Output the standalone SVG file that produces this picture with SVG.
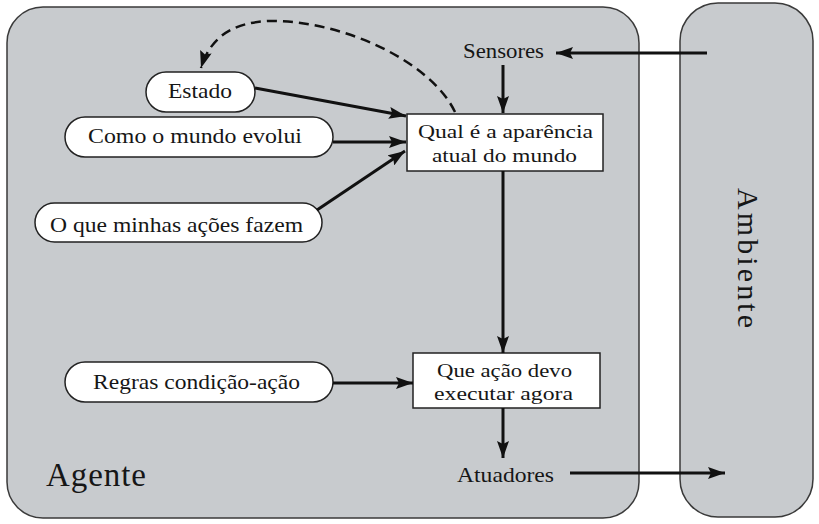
<svg xmlns="http://www.w3.org/2000/svg" width="819" height="524" viewBox="0 0 819 524" font-family="'Liberation Serif', 'DejaVu Serif', serif">
<style>
text{font-family:'Liberation Serif','DejaVu Serif',serif;fill:#161616}
.t{font-size:21px}
.b{font-size:19px}
.panel{fill:#c8cbce;stroke:#3a3a3a;stroke-width:1.5}
.node{fill:#fff;stroke:#222;stroke-width:1.5}
.c{stroke:#111;stroke-width:3;fill:none}
.d{stroke:#111;stroke-width:2.5;fill:none;stroke-dasharray:10 6}
</style>
<defs>
<marker id="ah" markerUnits="userSpaceOnUse" markerWidth="18" markerHeight="12" refX="17" refY="6" orient="auto">
<path d="M0,0 L17,6 L0,12 L3,6 z" fill="#111"/>
</marker>
</defs>
<rect width="819" height="524" fill="#fff"/>
<g id="agente">
<rect class="panel" x="7" y="7" width="632" height="511" rx="36" ry="36"/>
<text x="46" y="486" font-size="33" textLength="100" lengthAdjust="spacing">Agente</text>
</g>
<g id="ambiente">
<rect class="panel" x="680" y="3" width="133" height="514" rx="38" ry="38"/>
<text transform="translate(738,188) rotate(90)" font-size="30" textLength="140" lengthAdjust="spacing">Ambiente</text>
</g>
<g id="sensores"><text class="t" x="463" y="58" font-size="19" textLength="81" lengthAdjust="spacingAndGlyphs">Sensores</text></g>
<g id="atuadores"><text class="t" x="457" y="482" textLength="97" lengthAdjust="spacingAndGlyphs">Atuadores</text></g>
<g id="estado">
<rect class="node" x="146" y="72" width="109" height="40" rx="20"/>
<text class="t" x="168" y="98" textLength="64" lengthAdjust="spacingAndGlyphs">Estado</text>
</g>
<g id="como">
<rect class="node" x="65" y="117" width="268" height="40" rx="20"/>
<text class="t" x="88" y="143" textLength="214" lengthAdjust="spacingAndGlyphs">Como o mundo evolui</text>
</g>
<g id="oque">
<rect class="node" x="35" y="203" width="287" height="39" rx="19.5"/>
<text class="t" x="50" y="232" textLength="253" lengthAdjust="spacingAndGlyphs">O que minhas ações fazem</text>
</g>
<g id="regras">
<rect class="node" x="65" y="362" width="268" height="40" rx="20"/>
<text class="t" x="93" y="389" textLength="207" lengthAdjust="spacingAndGlyphs">Regras condição-ação</text>
</g>
<g id="qual">
<rect class="node" x="407" y="114" width="196" height="57"/>
<text class="b" x="418" y="138" textLength="175" lengthAdjust="spacingAndGlyphs">Qual é a aparência</text>
<text class="b" x="432" y="162" textLength="145" lengthAdjust="spacingAndGlyphs">atual do mundo</text>
</g>
<g id="queacao">
<rect class="node" x="413" y="353" width="187" height="55"/>
<text class="b" x="437" y="377" textLength="135" lengthAdjust="spacingAndGlyphs">Que ação devo</text>
<text class="b" x="434" y="400" textLength="139" lengthAdjust="spacingAndGlyphs">executar agora</text>
</g>
<g id="connectors">
<line class="c" x1="707" y1="53" x2="556" y2="53" marker-end="url(#ah)"/>
<line class="c" x1="503" y1="65" x2="503" y2="113" marker-end="url(#ah)"/>
<line class="c" x1="255" y1="88" x2="406" y2="116" marker-end="url(#ah)"/>
<line class="c" x1="333" y1="142" x2="406" y2="142" marker-end="url(#ah)"/>
<line class="c" x1="317" y1="210" x2="405" y2="151" marker-end="url(#ah)"/>
<line class="c" x1="503" y1="171" x2="503" y2="353" marker-end="url(#ah)"/>
<line class="c" x1="333" y1="383" x2="413" y2="383" marker-end="url(#ah)"/>
<line class="c" x1="503" y1="408" x2="503" y2="458" marker-end="url(#ah)"/>
<line class="c" x1="570" y1="473" x2="725" y2="473" marker-end="url(#ah)"/>
<path class="d" d="M455,112 C430,60 340,20 270,21 C232,22 210,38 201,68" marker-end="url(#ah)"/>
</g>
</svg>
